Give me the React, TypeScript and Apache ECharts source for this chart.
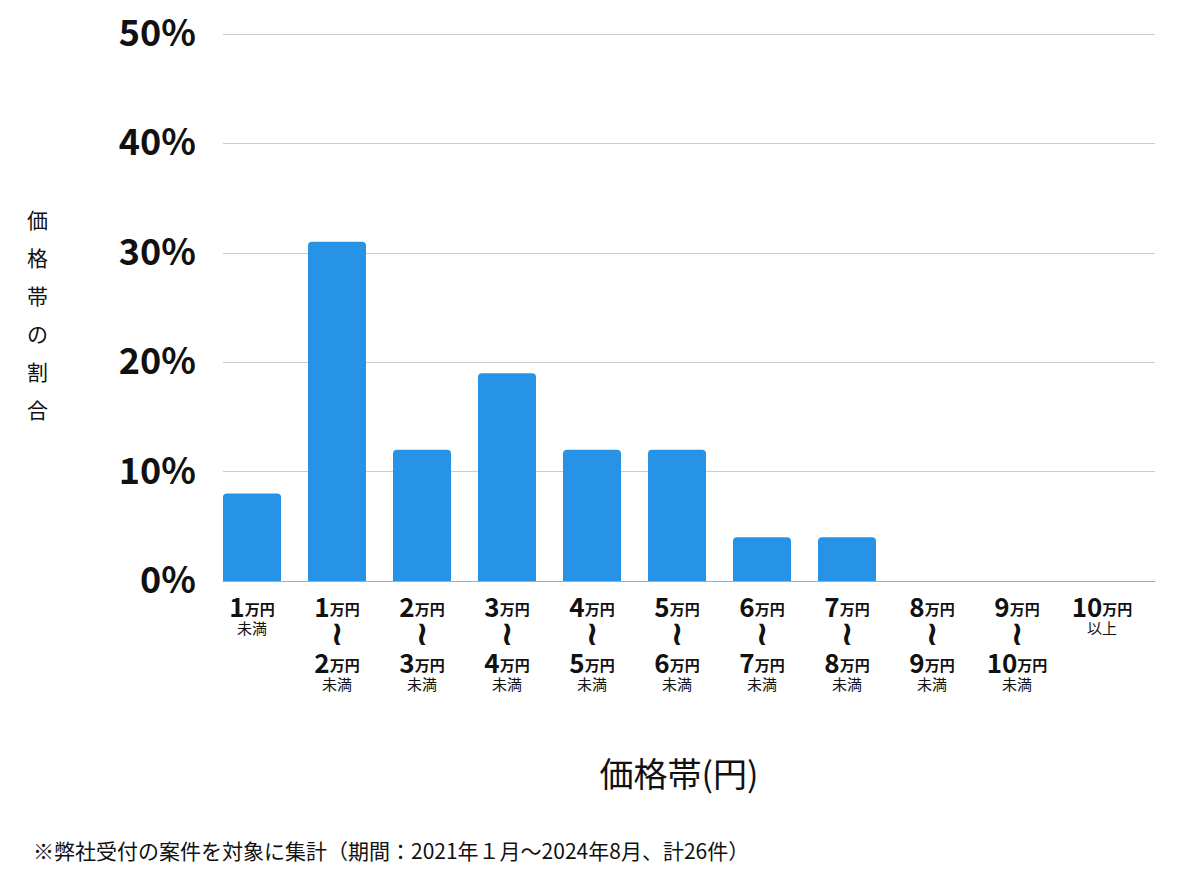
import { useEffect, useRef } from 'react';
import * as echarts from 'echarts';

// price bands (万円): lower / upper bound, null = open
const lowerBounds: (number | null)[] = [null, 1, 2, 3, 4, 5, 6, 7, 8, 9, 10];
const upperBounds: (number | null)[] = [1, 2, 3, 4, 5, 6, 7, 8, 9, 10, null];
const categories = lowerBounds.map((lo, i) => `${lo ?? ''}-${upperBounds[i] ?? ''}`);
const shares = [8, 31, 12, 19, 12, 12, 4, 4, 0, 0, 0];
const yTicks = [0, 10, 20, 30, 40, 50];

const FONT = "'Noto Sans CJK JP', 'Noto Sans', sans-serif";
const BAR = '#2693e6';

function bandLabel(_: string, index: number) {
  const lo = lowerBounds[index];
  const hi = upperBounds[index];
  if (lo === null) return `{n|${hi}}{u|万円}\n{s|未満}`;
  if (hi === null) return `{n|${lo}}{u|万円}\n{s|以上}`;
  return `{n|${lo}}{u|万円}\n{w|≀}\n{n|${hi}}{u|万円}\n{s|未満}`;
}

export default function App() {
  const ref = useRef<HTMLDivElement>(null);

  useEffect(() => {
    document.body.style.margin = '0';
    if (!ref.current) return;
    const chart = echarts.init(ref.current, null, { renderer: 'svg' });
    const yRange = { min: yTicks[0], max: yTicks[yTicks.length - 1], interval: 10 };
    chart.setOption({
      animation: false,
      backgroundColor: '#fff',
      textStyle: { fontFamily: FONT },
      // grid 0: gridlines + axis line; grid 1: bars + band labels (slightly shifted bands)
      grid: [
        { left: 223, right: 45, top: 34, bottom: 293 },
        { left: 209.5, right: 55.5, top: 34, bottom: 293 },
      ],
      xAxis: [
        {
          type: 'category',
          gridIndex: 0,
          data: categories,
          axisTick: { show: false },
          axisLabel: { show: false },
          axisLine: { lineStyle: { color: '#aaa', width: 1 } },
        },
        {
          type: 'category',
          gridIndex: 1,
          data: categories,
          axisTick: { show: false },
          axisLine: { show: false },
          axisLabel: {
            interval: 0,
            margin: 10,
            formatter: bandLabel,
            color: '#111',
            rich: {
              n: { fontSize: 26, fontWeight: 'bold', lineHeight: 28, fontFamily: FONT, color: '#111' },
              u: { fontSize: 15, fontWeight: 'bold', lineHeight: 28, fontFamily: FONT, color: '#111', padding: [6, 0, 0, 0] },
              w: { fontSize: 34, fontWeight: 'bold', lineHeight: 28, fontFamily: 'DejaVu Sans', color: '#111' },
              s: { fontSize: 15, lineHeight: 16, fontFamily: FONT, color: '#111' },
            },
          },
        },
      ],
      yAxis: [
        {
          type: 'value',
          gridIndex: 0,
          ...yRange,
          axisLine: { show: false },
          axisTick: { show: false },
          axisLabel: {
            formatter: (v: number) => `{v|${v}%}`,
            margin: 27,
            rich: {
              v: {
                fontSize: 36,
                fontWeight: 'bold',
                color: '#111',
                fontFamily: FONT,
                lineHeight: 36,
                padding: [0, 0, 8, 0],
              },
            },
          },
          splitLine: { lineStyle: { color: '#cccccc', width: 1 } },
        },
        {
          type: 'value',
          gridIndex: 1,
          ...yRange,
          show: false,
          splitLine: { show: false },
        },
      ],
      series: [
        {
          type: 'bar',
          xAxisIndex: 1,
          yAxisIndex: 1,
          data: shares,
          barWidth: 58,
          itemStyle: { color: BAR, borderRadius: [4, 4, 0, 0] },
        },
      ],
      graphic: [
        {
          type: 'text',
          left: 27,
          top: 200,
          style: {
            text: '価\n格\n帯\nの\n割\n合',
            lineHeight: 38,
            fill: '#111',
            font: `21px ${FONT}`,
            textAlign: 'center',
          },
        },
        {
          type: 'text',
          x: 679,
          y: 772,
          style: {
            text: '価格帯(円)',
            font: `34px ${FONT}`,
            fill: '#111',
            textAlign: 'center',
            textVerticalAlign: 'middle',
          },
        },
        {
          type: 'text',
          x: 33,
          y: 850,
          style: {
            text: '※弊社受付の案件を対象に集計（期間：2021年１月〜2024年8月、計26件）',
            font: `21px ${FONT}`,
            fill: '#111',
            textAlign: 'left',
            textVerticalAlign: 'middle',
          },
        },
      ],
    });
    return () => chart.dispose();
  }, []);

  return <div ref={ref} style={{ width: 1200, height: 874 }} />;
}
